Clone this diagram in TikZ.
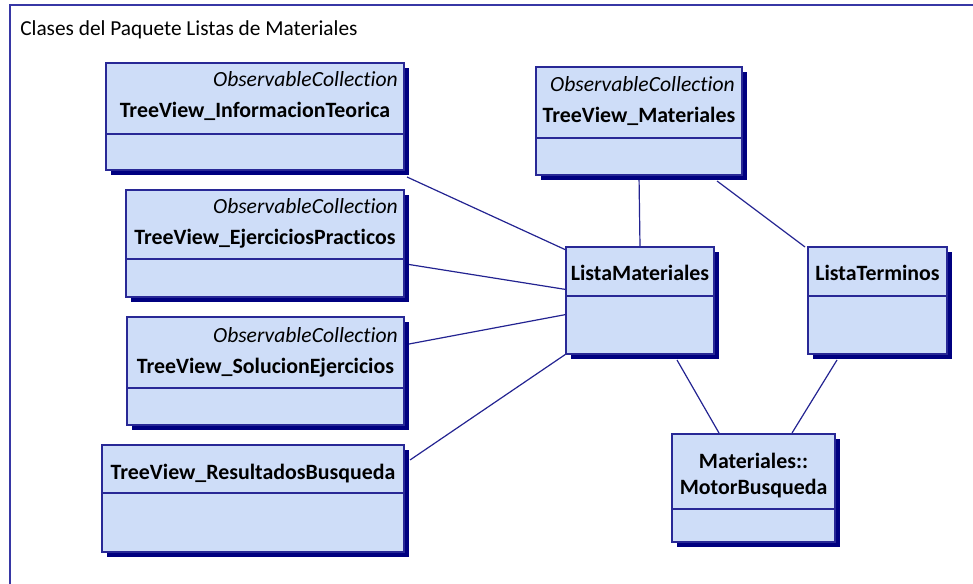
\documentclass[tikz,border=0pt]{standalone}
\usepackage{fontspec}
\setmainfont{Carlito}[Ligatures={NoCommon}]
\usetikzlibrary{calc,fit,backgrounds}

\definecolor{classfill}{RGB}{206,221,248}
\definecolor{classline}{RGB}{40,40,150}
\definecolor{shadowblue}{RGB}{0,0,128}
\definecolor{linkblue}{RGB}{35,35,145}
\definecolor{framecol}{RGB}{55,55,165}

\tikzset{
  classbody/.style={draw=classline, fill=classfill, line width=1.1pt, inner sep=0pt, outer sep=0pt},
  divider/.style={draw=classline, line width=1.1pt},
  classshadow/.style={fill=shadowblue},
  stereo/.style={font=\itshape\fontsize{16.2}{19}\selectfont, anchor=base east, inner sep=0pt},
  cname/.style={font=\bfseries\fontsize{16.4}{19}\selectfont, anchor=base, inner sep=0pt},
  caption/.style={font=\fontsize{16}{19}\selectfont, anchor=base west, inner sep=0pt},
  link/.style={draw=linkblue, line width=0.9pt},
  frame/.style={draw=framecol, line width=1.2pt},
}

% class box: name, left, top, right, bottom, divider (pixel units, y downwards)
\newcommand\umlclass[6]{%
  \fill[classshadow] ($(#2,#3)+(5,5)$) rectangle ($(#4,#5)+(5,5)$);
  \node[classbody, fit={(#2,#3) (#4,#5)}] (#1) {};
  \draw[divider] (#2,#6) -- (#4,#6);
}

\begin{document}
\begin{tikzpicture}[x=0.75pt, y=-0.75pt]
  \useasboundingbox (0,0) rectangle (973,584);

  % package frame, running past the page edge
  \begin{scope}
    \clip (0,0) rectangle (973,584);
    \draw[frame] (10,5) rectangle (990,600);
  \end{scope}
  \node[caption] (caption) at (20,36) {Clases del Paquete Listas de Materiales};

  % classes
  \umlclass{b1}{106}{63}{404}{170}{134}
  \node[stereo] (b1s) at (398,87) {ObservableCollection};
  \node[cname] (b1n) at (255,118) {TreeView\_InformacionTeorica};

  \umlclass{b2}{126}{190}{404}{297}{259}
  \node[stereo] (b2s) at (398,214) {ObservableCollection};
  \node[cname] (b2n) at (265,245) {TreeView\_EjerciciosPracticos};

  \umlclass{b3}{127}{317}{404}{425}{388}
  \node[stereo] (b3s) at (398,342) {ObservableCollection};
  \node[cname] (b3n) at (265.5,373) {TreeView\_SolucionEjercicios};

  \umlclass{b4}{102}{445}{404}{552}{493}
  \node[cname] (b4n) at (253,479) {TreeView\_ResultadosBusqueda};

  \umlclass{tm}{536}{67}{742}{175}{138}
  \node[stereo] (tms) at (735,92) {ObservableCollection};
  \node[cname] (tmn) at (639,123) {TreeView\_Materiales};

  \umlclass{lm}{566}{247}{714}{354}{296}
  \node[cname] (lmn) at (640,281) {ListaMateriales};

  \umlclass{lt}{808}{247}{947}{354}{296}
  \node[cname] (ltn) at (877.5,281) {ListaTerminos};

  \umlclass{mb}{672}{434}{835}{542}{509}
  \node[cname] (mbn1) at (753.5,468) {Materiales::};
  \node[cname] (mbn2) at (753.5,494) {MotorBusqueda};

  % associations, kept underneath the class boxes
  \begin{scope}[on background layer]
    \draw[link] ($(b1.south east)+(3,7)$) -- ($(lm.north west)+(0,3)$);
    \draw[link] ($(b2.east)+(5,21)$) -- ($(lm.west)+(0,-11)$);
    \draw[link] ($(b3.east)+(5,-27)$) -- ($(lm.west)+(0,14)$);
    \draw[link] ($(b4.north east)+(6,15)$) -- (lm.south west);
    \draw[link] (tm.south) -- (lm.north);
    \draw[link] ($(tm.south east)+(-25,6)$) -- ($(lt.north west)+(-3,0)$);
    \draw[link] ($(lm.south)+(37,6)$) -- ($(mb.north)+(-34.5,-1)$);
    \draw[link] ($(lt.south)+(-40.5,6)$) -- ($(mb.north)+(38.5,-1)$);
  \end{scope}
\end{tikzpicture}
\end{document}
